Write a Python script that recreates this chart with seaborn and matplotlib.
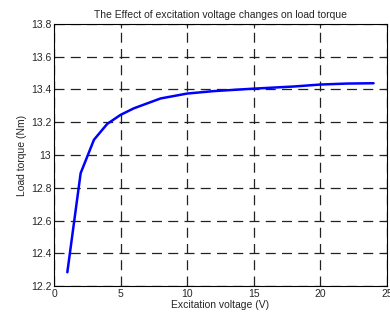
import matplotlib
matplotlib.use("Agg")
import matplotlib.pyplot as plt
import pandas as pd
import seaborn as sns

voltage = [1, 2, 3, 4, 5, 6, 7, 8, 9, 10, 12, 15, 18, 20, 22, 24]
torque = [12.284, 12.889, 13.093, 13.19, 13.245, 13.285, 13.315, 13.345, 13.36, 13.375,
          13.39, 13.405, 13.418, 13.43, 13.436, 13.438]

sns.set_style("white")
plt.rcParams["font.family"] = ["Liberation Sans", "DejaVu Sans"]

df = pd.DataFrame({"v": voltage, "t": torque})
fig = plt.figure(figsize=(3.9, 3.15), dpi=100)
ax = fig.add_axes([0.1385, 0.092, 0.8535, 0.832])
sns.lineplot(data=df, x="v", y="t", color="#0000ff", lw=1.8, ax=ax)

ax.set_xlim(0, 25)
ax.set_ylim(12.2, 13.8)
ax.set_xticks([0, 5, 10, 15, 20, 25])
ax.set_yticks([12.2, 12.4, 12.6, 12.8, 13, 13.2, 13.4, 13.6, 13.8])
ax.set_yticklabels(["12.2", "12.4", "12.6", "12.8", "13", "13.2", "13.4", "13.6", "13.8"])
ax.grid(True, color="#222222", ls=(0, (8, 5)), lw=0.9)
ax.tick_params(direction="in", top=True, right=True, labelsize=7.5, length=3, pad=2)
for s in ax.spines.values():
    s.set_color("black"); s.set_linewidth(0.8)
ax.set_xlabel("Excitation voltage (V)", fontsize=7.5, labelpad=1)
ax.set_ylabel("Load torque (Nm)", fontsize=7.5, labelpad=3)
ax.set_title("The Effect of excitation voltage changes on load torque", fontsize=7.5, pad=4)
fig.savefig("out.png", dpi=100)
